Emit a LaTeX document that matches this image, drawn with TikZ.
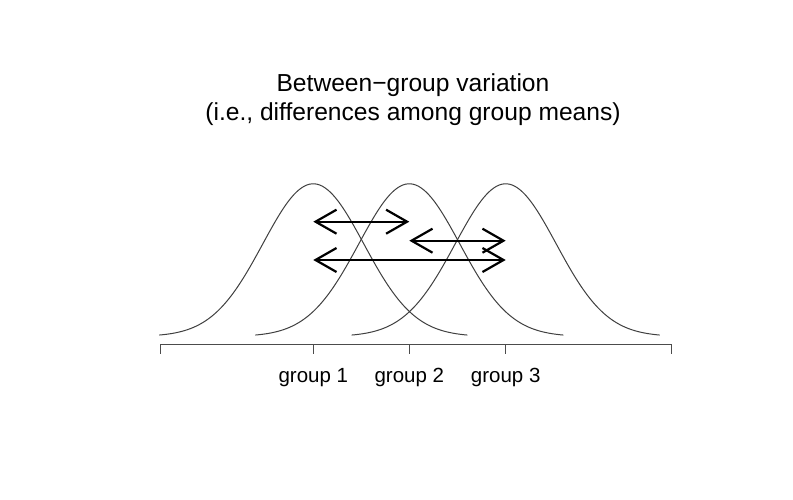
\documentclass[tikz,border=0pt]{standalone}
\usepackage{fontspec}
\setmainfont{Liberation Sans}
\usetikzlibrary{arrows.meta}
\begin{document}
\begin{tikzpicture}[x=1pt,y=-1pt,
  curve/.style={draw=black!75,line width=1pt},
  axisline/.style={draw=black!70,line width=1pt},
  diffarrow/.style={draw=black,line width=2.2pt,
    {Straight Barb[length=21pt,width=24pt,line width=2.2pt]}-{Straight Barb[length=21pt,width=24pt,line width=2.2pt]}},
  titletext/.style={font=\fontsize{24.6}{29}\selectfont,anchor=base,inner sep=0pt},
  ticktext/.style={font=\fontsize{20.5}{24}\selectfont,anchor=base,inner sep=0pt}]
\useasboundingbox[fill=white] (0,0) rectangle (793,500);
% title
\node[titletext] (t1) at (413,91.7) {Between−group variation};
\node[titletext] (t2) at (413,120.5) {(i.e., differences among group means)};
% density curves
\foreach \m in {313.3,409.3,505.7}{
  \draw[curve] plot[domain=-3.05:3.05,samples=120,smooth]
    ({\m+50.5*\x},{336.5-152.7*exp(-\x*\x/2)});
}
% axis
\coordinate (axL) at (160,344.3);
\coordinate (axR) at (671.3,344.3);
\draw[axisline] (axL) -- (axR);
\foreach \t in {160,313.3,409.3,505.7,671.3}{
  \draw[axisline] (\t,344.3) -- (\t,354);
}
\node[ticktext] (g1) at (313.3,382.7) {group 1};
\node[ticktext] (g2) at (409.3,382.7) {group 2};
\node[ticktext] (g3) at (505.7,382.7) {group 3};
% arrows
\coordinate (a1l) at (313.3,221.7);
\coordinate (a1r) at (409.3,221.7);
\coordinate (a2l) at (409.3,240.7);
\coordinate (a2r) at (505.7,240.7);
\coordinate (a3l) at (313.3,260);
\coordinate (a3r) at (505.7,260);
\draw[diffarrow] (a1l) -- (a1r);
\draw[diffarrow] (a2l) -- (a2r);
\draw[diffarrow] (a3l) -- (a3r);
\end{tikzpicture}
\end{document}
